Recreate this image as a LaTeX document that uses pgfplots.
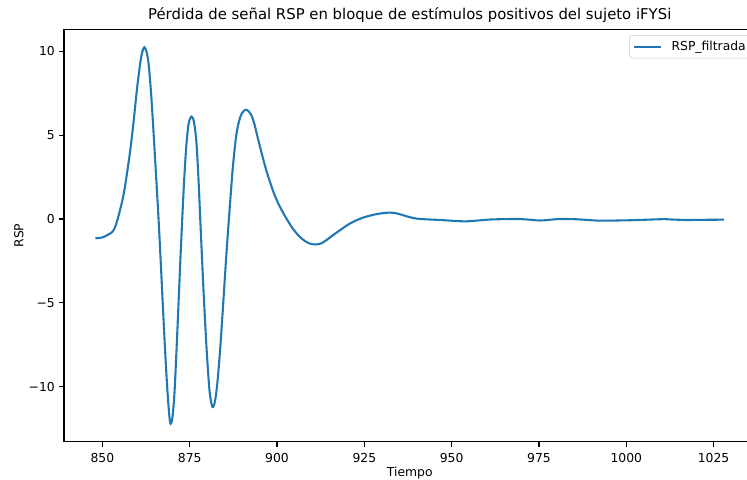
\documentclass[border=0pt]{standalone}
\usepackage{fontspec}
\setmainfont{DejaVu Sans}
\usepackage{pgfplots}
\pgfplotsset{compat=1.18}
\definecolor{tabblue}{HTML}{1F77B4}
\begin{document}
\begin{tikzpicture}
\path (-46.08pt,-26.86pt) rectangle (491.76pt,318.03pt);
\begin{scope}[overlay]
\clip (-46.08pt,-26.86pt) rectangle (491.76pt,318.03pt);
\begin{axis}[
  at={(0,0)}, anchor=south west,
  scale only axis,
  width=497.88pt, height=296.93pt,
  xmin=839, xmax=1037,
  ymin=-13.28, ymax=11.31,
  axis lines=box,
  axis line style={line width=0.8pt, black},
  tick align=outside,
  major tick length=3.5pt,
  tick style={line width=0.8pt, black},
  xtick={850,875,900,925,950,975,1000,1025},
  xticklabels={850,875,900,925,950,975,1000,1025},
  ytick={-10,-5,0,5,10},
  yticklabels={−10,−5,0,5,10},
  xtick pos=bottom, ytick pos=left,
  /pgf/number format/assume math mode=true,
  tick label style={font=\fontsize{8.9}{10.5}\selectfont, black},
  xticklabel style={inner sep=0pt, anchor=north, yshift=-4.7pt},
  yticklabel style={inner sep=0pt, anchor=east, xshift=-2.9pt},
  title={Pérdida de señal RSP en bloque de estímulos positivos del sujeto iFYSi},
  every axis title/.style={at={(axis description cs:0.5,1.0226)}, anchor=base, inner sep=0pt, font=\fontsize{10.7}{12.5}\selectfont},
  xlabel={Tiempo},
  every axis x label/.style={at={(axis description cs:0.5,-0.0832)}, anchor=base, inner sep=0pt, font=\fontsize{8.9}{10.5}\selectfont},
  ylabel={RSP},
  every axis y label/.style={at={(axis description cs:-0.0589,0.5)}, rotate=90, anchor=base, inner sep=0pt, font=\fontsize{8.9}{10.5}\selectfont},
  legend style={at={(axis description cs:1,1)}, anchor=north east, xshift=-4.3pt, yshift=-4.3pt,
    draw=black!20, rounded corners=2pt, fill=white, inner xsep=2.5pt, inner ysep=2pt,
    font=\fontsize{8.9}{10.5}\selectfont,
    nodes={inner xsep=0pt, inner ysep=2pt}, column sep=7.2pt},
  legend cell align=left,
  legend image code/.code={\draw[#1, line width=1.5pt] (0pt,0pt) -- (19pt,0pt);},
]
\addplot[tabblue, line width=1.5pt, smooth, tension=0.5] coordinates {
(848.0,-1.15) (850.0,-1.10) (851.5,-0.95) (852.8,-0.78) (853.6,-0.5) (854.3,-0.05)
(855.0,0.5) (855.7,1.1) (856.4,1.85) (857.2,2.95) (858.0,4.15) (858.9,5.75) (859.9,7.75)
(860.8,9.25) (861.4,9.95) (862.0,10.24) (862.6,10.0) (863.2,9.3) (863.9,7.6)
(864.6,5.3) (865.3,2.8) (866.1,-0.1) (866.8,-3.0) (867.5,-6.0) (868.2,-8.8)
(868.8,-10.8) (869.4,-12.15) (870.0,-11.9) (870.6,-10.5) (871.2,-7.9) (871.8,-5.0)
(872.5,-1.6) (873.3,1.9) (874.0,4.3) (874.7,5.7) (875.5,6.1) (876.2,5.8)
(876.9,4.6) (877.5,2.4) (878.1,-0.4) (879.0,-4.5) (879.9,-8.0) (880.7,-10.3)
(881.5,-11.2) (882.2,-10.9) (882.9,-9.8) (883.7,-7.8) (884.6,-5.0) (885.5,-2.1)
(886.5,0.8) (887.4,3.2) (888.4,5.1) (889.5,6.1) (890.5,6.45) (891.4,6.5)
(892.5,6.25) (893.4,5.75) (894.3,5.0) (895.5,4.0) (897.0,2.85) (898.9,1.65)
(900.3,0.95) (901.8,0.35) (903.2,-0.15) (904.6,-0.6) (906.3,-1.02) (908.0,-1.32)
(909.6,-1.48) (911.2,-1.52) (912.7,-1.45) (914.2,-1.25) (916.1,-0.95) (918.1,-0.66)
(920.0,-0.38) (922.0,-0.15) (924.6,0.08) (927.6,0.25) (930.0,0.34) (932.4,0.38)
(934.3,0.33) (936.2,0.22) (938.5,0.08) (941.0,0.0) (946.7,-0.06) (953.3,-0.14)
(957.0,-0.1) (961.3,-0.03) (967.6,0.0) (971.0,-0.02) (975.2,-0.09) (978.0,-0.05)
(981.0,0.0) (986.0,-0.02) (992.4,-0.1) (1000.0,-0.08) (1005.0,-0.05) (1010.5,-0.01)
(1013.0,-0.03) (1017.2,-0.06) (1022.0,-0.05) (1028.0,-0.04)
};
\addlegendentry{RSP\_filtrada}
\end{axis}
\end{scope}
\end{tikzpicture}
\end{document}
